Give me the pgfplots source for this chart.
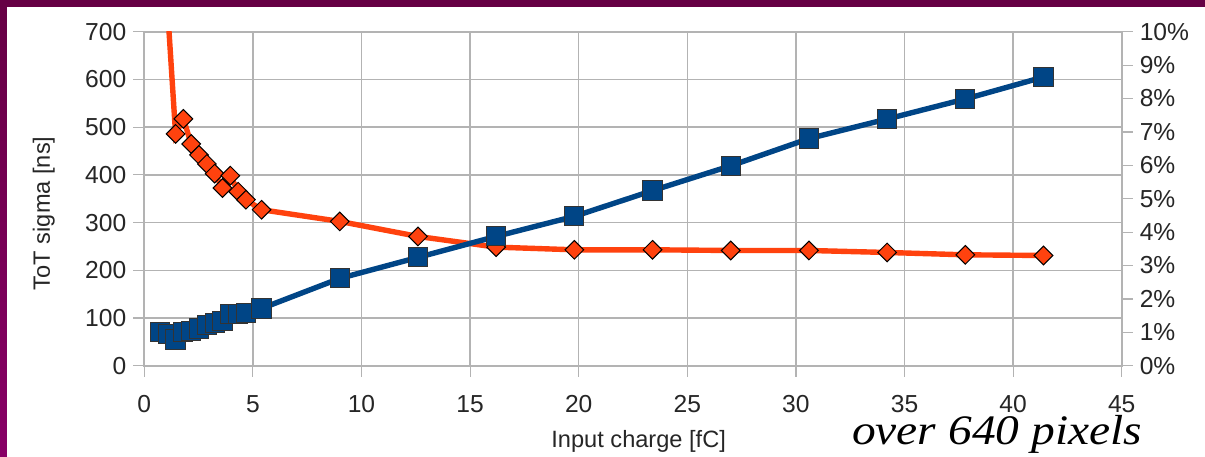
\documentclass[border=0pt]{standalone}
\usepackage{fontspec}
\setmainfont{Liberation Sans}
\newfontfamily\serifit{Liberation Serif}
\usepackage{graphicx}
\usepackage{pgfplots}
\pgfplotsset{compat=1.18}
\definecolor{lobl}{HTML}{004586}
\definecolor{loor}{HTML}{FF420E}
\definecolor{gridc}{HTML}{B3B3B3}
\definecolor{frameA}{HTML}{660044}
\definecolor{frameB}{HTML}{880066}

\pgfplotstableread{
x y
0.72 71
1.08 67
1.44 55
1.80 70
2.16 73
2.52 78
2.88 85
3.24 90
3.60 93
3.96 108
4.32 108
4.68 111
5.40 120
9.0 183
12.6 227
16.2 271
19.8 313
23.4 367
27.0 419
30.6 476
34.2 517
37.8 559
41.4 605
}\blueseries

\pgfplotstableread{
x y
1.08 10.6
1.44 6.94
1.80 7.39
2.16 6.64
2.52 6.31
2.88 6.04
3.24 5.75
3.60 5.32
3.96 5.69
4.32 5.21
4.68 4.97
5.40 4.67
9.0 4.32
12.6 3.87
16.2 3.55
19.8 3.47
23.4 3.47
27.0 3.45
30.6 3.45
34.2 3.39
37.8 3.32
41.4 3.30
}\orangeseries

\pgfplotsset{base/.style={
  scale only axis, width=488.7pt, height=167pt,
  xmin=0, xmax=45,
  tick align=outside, major tick length=5.5pt,
  tick style={gridc, line width=0.6pt},
  axis line style={gridc, line width=0.8pt},
  ticklabel style={font=\fontsize{12.3}{14}\selectfont, text=black!85},
  /pgf/number format/assume math mode=true,
}}

\begin{document}
\begin{tikzpicture}
\useasboundingbox (-72.15pt,-45.15pt) rectangle (530.35pt,182.85pt);
\fill[white] (-72.15pt,-45.15pt) rectangle (530.35pt,182.85pt);
\fill[top color=frameA, bottom color=frameB] (-72.15pt,-45.15pt) rectangle (-68.65pt,182.85pt);
\fill[frameA] (-72.15pt,179.35pt) rectangle (530.35pt,182.85pt);

\begin{axis}[base,
  ymin=0, ymax=700, ytick={0,100,...,700},
  xtick={0,5,...,45},
  grid=major, grid style={gridc, line width=0.7pt},
  ytick pos=left, xtick pos=bottom,
  xticklabel shift=6pt,
  xlabel={Input charge [fC]}, ylabel={ToT sigma [ns]},
  every axis x label/.style={at={(axis description cs:0.5058,0)}, anchor=base, yshift=-40.8pt, font=\fontsize{11.8}{14}\selectfont, text=black!85},
  every axis y label/.style={at={(axis description cs:0,0.4563)}, xshift=-47.15pt, rotate=90, anchor=base, font=\fontsize{11.8}{14}\selectfont, text=black!85},
]
\addplot[draw=none] coordinates {(0,0)};
\end{axis}

\begin{axis}[base,
  ymin=0, ymax=10, ytick={0,1,...,10},
  ytick pos=right, xtick=\empty,
  yticklabel={\pgfmathprintnumber{\tick}\%},
]
\addplot[loor, line width=2.7pt, mark=square*, mark size=3.3pt,
  mark options={rotate=45, fill=loor, draw=black, line width=0.5pt}] table[x=x,y=y] {\orangeseries};
\end{axis}

\begin{axis}[base, hide axis, ymin=0, ymax=700]
\addplot[lobl, line width=2.7pt, mark=square*, mark size=4.8pt,
  mark options={fill=lobl, draw=black!80, line width=0.5pt}] table[x=x,y=y] {\blueseries};
\end{axis}

\node[anchor=base west, inner sep=0pt] at (353.7pt,-39.2pt)
  {\scalebox{1.13}[1]{\serifit\itshape\fontsize{21}{24}\selectfont over 640 pixels}};
\end{tikzpicture}
\end{document}
